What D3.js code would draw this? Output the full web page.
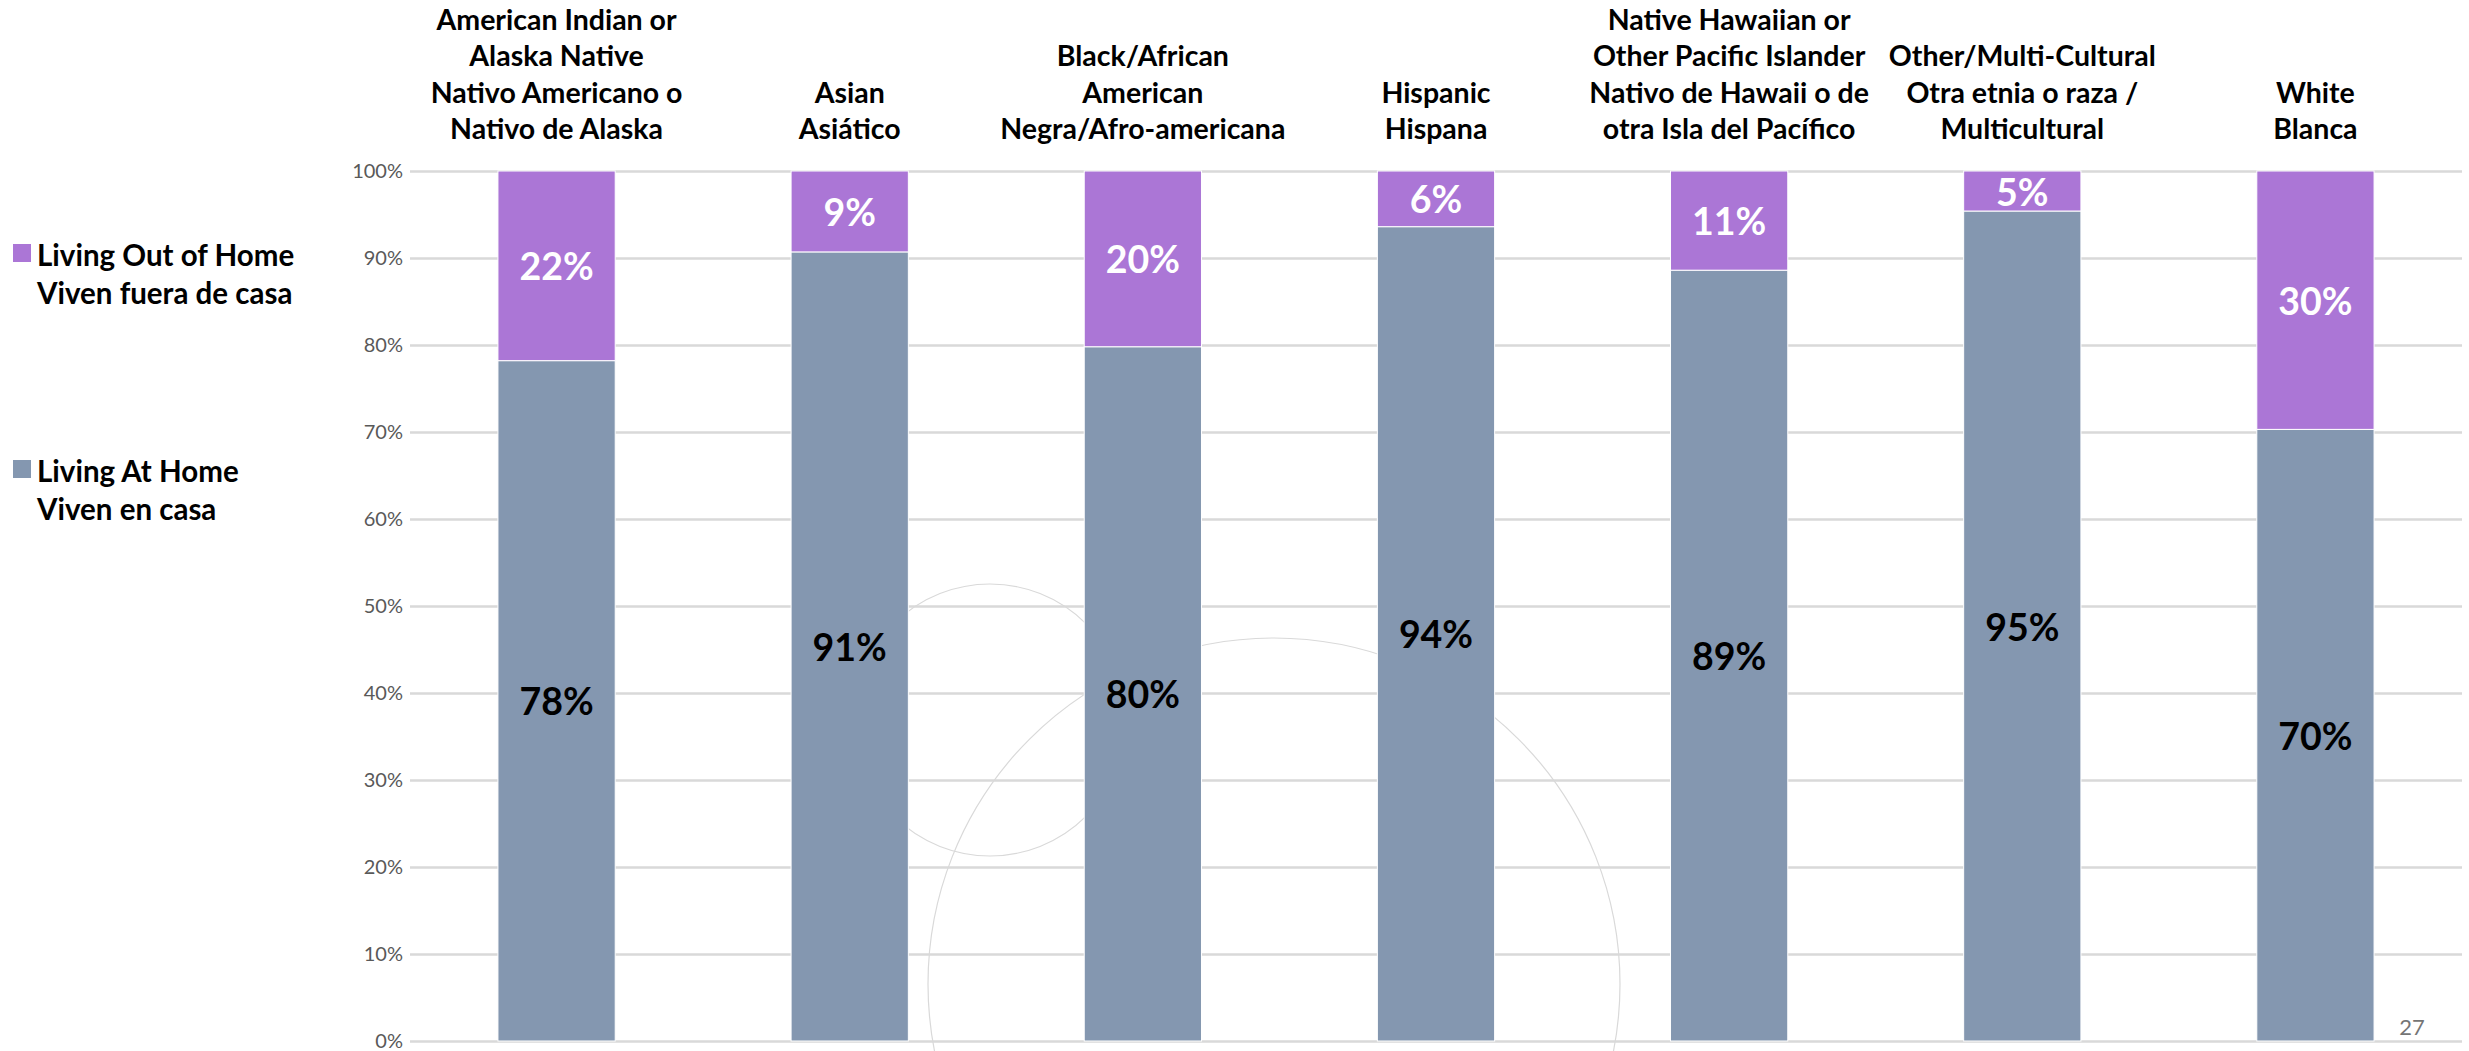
<!DOCTYPE html>
<html>
<head>
<meta charset="utf-8">
<script src="https://cdn.jsdelivr.net/npm/d3@7"></script>
<style>
body { margin:0; background:#ffffff; }
svg { display:block; font-family: Lato, "Open Sans", sans-serif; }
</style>
</head>
<body>
<svg></svg>
<script>

//category headers, one array of lines per bar
var categories = [
    ["American Indian or","Alaska Native","Nativo Americano o","Nativo de Alaska"],
    ["Asian","Asiático"],
    ["Black/African","American","Negra/Afro-americana"],
    ["Hispanic","Hispana"],
    ["Native Hawaiian or","Other Pacific Islander","Nativo de Hawaii o de","otra Isla del Pacífico"],
    ["Other/Multi-Cultural","Otra etnia o raza /","Multicultural"],
    ["White","Blanca"]
];

//percent of youth in each group
var atHome    = [78.2, 90.7, 79.8, 93.6, 88.6, 95.4, 70.3];
var outOfHome = [21.8,  9.3, 20.2,  6.4, 11.4,  4.6, 29.7];

var seriesKeys   = ["atHome","outOfHome"];
var legendLabels = [["Living Out of Home","Viven fuera de casa"],
                    ["Living At Home","Viven en casa"]];
var legendKeys   = ["outOfHome","atHome"];

var yTickValues = [0,10,20,30,40,50,60,70,80,90,100];

var colors = {atHome:"#8497b0", outOfHome:"#ab76d6"};
var labelColors = {atHome:"#000000", outOfHome:"#ffffff"};

var pctLabel = function(v) { return Math.round(v) + "%"; }

//draws the faint circles that sit behind the chart on the slide
var drawBackground = function(svg)
{
    var deco = svg.append("g").classed("deco",true);
    deco.append("circle")
        .attr("cx",990).attr("cy",720).attr("r",136)
        .attr("fill","none").attr("stroke","#d9d9d9").attr("stroke-width",1.2);
    deco.append("circle")
        .attr("cx",1274).attr("cy",984).attr("r",346)
        .attr("fill","none").attr("stroke","#d9d9d9").attr("stroke-width",1.2);
}

var drawAxes = function(svg,plot,yScale)
{
    var yAxis = d3.axisLeft(yScale)
        .tickValues(yTickValues)
        .tickSize(-(plot.right-plot.left))
        .tickPadding(7)
        .tickFormat(function(d){ return d + "%"; });

    var axis = svg.append("g")
        .attr("transform","translate("+plot.left+",0)")
        .call(yAxis);
    axis.select(".domain").remove();
    axis.selectAll(".tick line")
        .attr("stroke","#d9d9d9")
        .attr("stroke-width",2.5);
    axis.selectAll(".tick text")
        .attr("fill","#595959")
        .style("font-size","20px")
        .style("font-family","Lato, sans-serif");
}

var drawBars = function(svg,table,xScale,yScale)
{
    var stacked = d3.stack().keys(seriesKeys)(table);

    var layers = svg.append("g")
        .selectAll("g")
        .data(stacked)
        .enter()
        .append("g")
        .attr("fill",function(s){ return colors[s.key]; });

    layers.selectAll("rect")
        .data(function(s){ return s; })
        .enter()
        .append("rect")
        .attr("x",function(d){ return xScale(d.data.idx); })
        .attr("width",xScale.bandwidth())
        .attr("y",function(d){ return yScale(d[1]); })
        .attr("height",function(d){ return yScale(d[0]) - yScale(d[1]); })
        .attr("stroke","#ffffff")
        .attr("stroke-width",1);

    var labels = svg.append("g");
    stacked.forEach(function(s)
    {
        labels.selectAll("text."+s.key)
            .data(s)
            .enter()
            .append("text")
            .classed(s.key,true)
            .text(function(d){ return pctLabel(d[1]-d[0]); })
            .attr("x",function(d){ return xScale(d.data.idx) + xScale.bandwidth()/2; })
            .attr("y",function(d){ return (yScale(d[0]) + yScale(d[1]))/2; })
            .attr("text-anchor","middle")
            .attr("dominant-baseline","central")
            .attr("fill",labelColors[s.key])
            .style("font-size","37.5px")
            .style("font-weight","bold");
    });
}

var drawHeaders = function(svg,xScale)
{
    var lineHeight = 36.3;
    var lastLine = 128;
    var heads = svg.append("g")
        .selectAll("text")
        .data(categories)
        .enter()
        .append("text")
        .attr("text-anchor","middle")
        .attr("dominant-baseline","central")
        .attr("fill","#000000")
        .style("font-size","28.5px")
        .style("font-weight","bold");

    heads.each(function(lines,i)
    {
        var x = xScale(i) + xScale.bandwidth()/2;
        d3.select(this).selectAll("tspan")
            .data(lines)
            .enter()
            .append("tspan")
            .attr("x",x)
            .attr("y",function(l,j){ return lastLine - (lines.length-1-j)*lineHeight; })
            .text(function(l){ return l; });
    });
}

var drawLegend = function(svg)
{
    var tops = [244, 460];
    var legend = svg.append("g")
        .selectAll("g")
        .data(legendKeys)
        .enter()
        .append("g");

    legend.append("rect")
        .attr("x",13)
        .attr("y",function(k,i){ return tops[i]; })
        .attr("width",18)
        .attr("height",18)
        .attr("fill",function(k){ return colors[k]; });

    legend.append("text")
        .attr("fill","#000000")
        .attr("dominant-baseline","central")
        .style("font-size","29.5px")
        .style("font-weight","bold")
        .each(function(k,i)
        {
            d3.select(this).selectAll("tspan")
                .data(legendLabels[i])
                .enter()
                .append("tspan")
                .attr("x",37)
                .attr("y",function(l,j){ return tops[i] + 10 + j*38; })
                .text(function(l){ return l; });
        });
}

var initGraph = function()
{
    var screen = {width:2469,height:1051};
    var plot = {left:410,right:2462,top:171,bottom:1041};

    var svg = d3.select("svg")
        .attr("width",screen.width)
        .attr("height",screen.height);

    var table = categories.map(function(c,i)
    {
        return {idx:i, atHome:atHome[i], outOfHome:outOfHome[i]};
    });

    var xScale = d3.scaleBand()
        .domain(d3.range(categories.length))
        .range([plot.left,plot.right])
        .paddingInner(0.6)
        .paddingOuter(0.3);

    var yScale = d3.scaleLinear()
        .domain([0,100])
        .range([plot.bottom,plot.top]);

    drawBackground(svg);
    drawAxes(svg,plot,yScale);
    drawBars(svg,table,xScale,yScale);
    drawHeaders(svg,xScale);
    drawLegend(svg);

    //slide number
    svg.append("text")
        .text("27")
        .attr("x",2412)
        .attr("y",1035)
        .attr("text-anchor","middle")
        .attr("fill","#757575")
        .style("font-size","22px");
}

initGraph();
</script>
</body>
</html>
